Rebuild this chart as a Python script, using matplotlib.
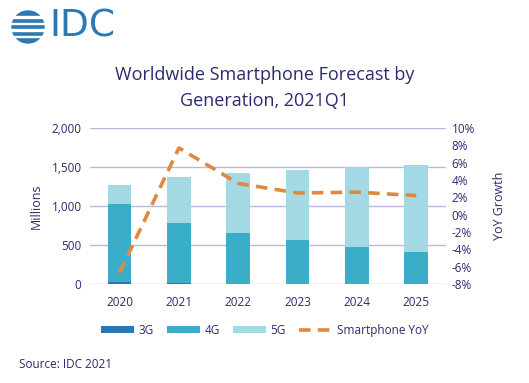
import matplotlib
matplotlib.use("Agg")
import matplotlib.pyplot as plt
import numpy as np
from matplotlib.patches import Circle, Rectangle

years = ["2020", "2021", "2022", "2023", "2024", "2025"]
g3 = [30, 12, 6, 4, 3, 2]
g4 = [1000, 774, 652, 564, 475, 412]
g5 = [243, 590, 769, 897, 1018, 1116]
yoy = [-6.7, 7.7, 3.6, 2.5, 2.6, 2.2]

navy = "#2b2b6f"
c3, c4, c5 = "#2e75b6", "#3aaec8", "#a3d9e4"
corange = "#e0893e"
grid = "#b8b8dc"

plt.rcParams['font.family'] = ['Open Sans', 'DejaVu Sans']

fig = plt.figure(figsize=(5.29, 3.83), dpi=100)
ax = fig.add_axes([0.170, 0.2585, 0.673, 0.4073])
x = np.arange(len(years))
w = 0.4
b1 = ax.bar(x, g3, w, color=c3, label="3G", zorder=2)
b2 = ax.bar(x, g4, w, bottom=g3, color=c4, label="4G", zorder=2)
bot = np.array(g3) + np.array(g4)
b3 = ax.bar(x, g5, w, bottom=bot, color=c5, label="5G", zorder=2)
ax.set_xlim(-0.5, 5.5)
ax.set_ylim(0, 2000)
ax.set_yticks([0, 500, 1000, 1500, 2000])
ax.set_yticklabels(["0", "500", "1,000", "1,500", "2,000"])
ax.set_xticks(x)
ax.set_xticklabels(years)
ax.grid(axis='y', color=grid, linewidth=1, zorder=0)
for s in ax.spines.values():
    s.set_visible(False)
ax.tick_params(length=0, colors=navy, labelsize=8.5, pad=6)
ax.tick_params(axis='x', pad=9)
ax.set_ylabel("Millions", color=navy, fontsize=9, labelpad=6)

ax2 = ax.twinx()
ln, = ax2.plot(x, yoy, color=corange, linewidth=2.6, linestyle=(0, (3.2, 2)),
               label="Smartphone YoY", zorder=3, dash_capstyle='butt')
ax2.set_ylim(-8, 10)
ax2.set_yticks(np.arange(-8, 11, 2))
ax2.set_yticklabels([f"{v}%" for v in range(-8, 11, 2)])
for s in ax2.spines.values():
    s.set_visible(False)
ax2.tick_params(length=0, colors=navy, labelsize=8.5, pad=4)
ax2.set_ylabel("YoY Growth", color=navy, fontsize=9, labelpad=13)

fig.text(0.5, 0.803, "Worldwide Smartphone Forecast by", ha='center', va='center',
         color=navy, fontsize=13)
fig.text(0.5, 0.735, "Generation, 2021Q1", ha='center', va='center',
         color=navy, fontsize=13)

fig.legend([b1, b2, b3, ln], ["3G", "4G", "5G", "Smartphone YoY"],
           loc='center', bbox_to_anchor=(0.5, 0.138), ncol=4, frameon=False,
           fontsize=8.5, labelcolor=navy, handlelength=2.8, handleheight=0.5,
           columnspacing=1.1, handletextpad=0.4)

fig.text(0.036, 0.047, "Source: IDC 2021", color=navy, fontsize=8.5, va='center')

# IDC logo
lax = fig.add_axes([0, 0, 1, 1], zorder=-1)
lax.set_xlim(0, 529)
lax.set_ylim(383, 0)
lax.axis('off')
logo_blue = "#2a79b5"
lax.add_patch(Circle((28, 27), 16, color=logo_blue))
for yy in [16, 22.5, 29, 35.5]:
    lax.add_patch(Rectangle((10, yy), 36, 1.6, color='white'))
fig.text(0.093, 0.93, "IDC", color=logo_blue, fontsize=27, va='center',
         ha='left', family='DejaVu Sans', fontweight='normal')

fig.savefig("out.png", dpi=100)
